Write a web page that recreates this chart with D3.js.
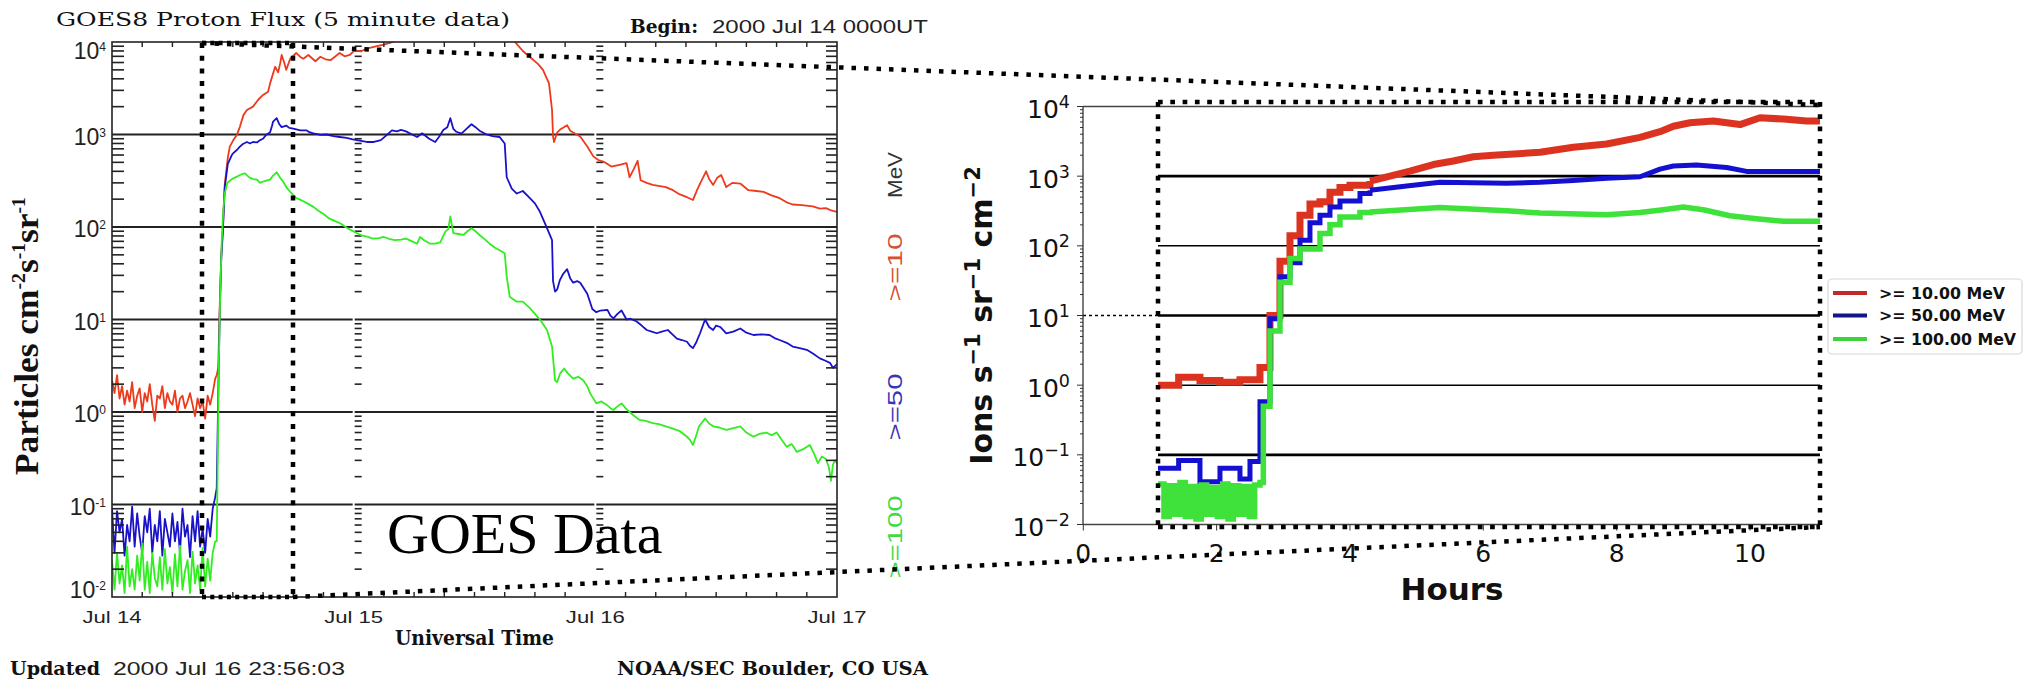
<!DOCTYPE html>
<html>
<head>
<meta charset="utf-8">
<script src="https://cdn.jsdelivr.net/npm/d3@7"></script>
<style>
  body { margin: 0; background: #fff; }
  svg { display: block; }
</style>
</head>
<body>
<svg id="chart" width="2024" height="682"></svg>
<script>
// ── Data ─────────────────────────────────────────────────────────────────────
// Left panel: GOES8 proton flux, hours since 2000 Jul 14 00 UT.
// Quiet period before the event, sampled every 15 min.
const preHours = [0, 0.25, 0.5, 0.75, 1, 1.25, 1.5, 1.75, 2, 2.25, 2.5, 2.75, 3, 3.25,
  3.5, 3.75, 4, 4.25, 4.5, 4.75, 5, 5.25, 5.5, 5.75, 6, 6.25, 6.5, 6.75, 7, 7.25, 7.5,
  7.75, 8, 8.25, 8.5, 8.75, 9, 9.25, 9.5, 9.75, 10, 10.25];
const preRed = [2.2, 1.6, 2.5, 1.4, 1.9, 1.2, 1.7, 1.3, 2.1, 1.1, 1.5, 1.8, 1.0, 1.6, 1.3,
  2.0, 1.2, 0.8, 1.5, 1.4, 1.9, 1.1, 1.6, 1.3, 1.2, 1.7, 1.0, 1.4, 1.5, 1.1, 1.3, 1.6, 1.2,
  0.9, 1.4, 1.1, 1.3, 0.85, 1.5, 1.2, 1.6, 2.3];
const preBlue = [0.09, 0.03, 0.085, 0.05, 0.07, 0.028, 0.06, 0.04, 0.095, 0.035, 0.08,
  0.045, 0.03, 0.075, 0.05, 0.09, 0.03, 0.06, 0.04, 0.085, 0.028, 0.07, 0.05, 0.035, 0.08,
  0.04, 0.065, 0.03, 0.09, 0.045, 0.06, 0.027, 0.075, 0.04, 0.085, 0.035, 0.055, 0.03,
  0.07, 0.045, 0.09, 0.12];
const preGreen = [0.025, 0.012, 0.03, 0.014, 0.022, 0.011, 0.035, 0.013, 0.02, 0.012,
  0.028, 0.015, 0.038, 0.012, 0.024, 0.011, 0.03, 0.016, 0.013, 0.027, 0.012, 0.033,
  0.014, 0.021, 0.011, 0.029, 0.013, 0.036, 0.012, 0.019, 0.025, 0.011, 0.031, 0.014,
  0.022, 0.012, 0.034, 0.013, 0.026, 0.015, 0.03, 0.04];

// Event period, [hour, flux]
const eventRed = [[10.4, 2.5], [10.55, 3], [10.7, 14], [10.85, 50], [11.0, 95], [11.2, 290],
  [11.5, 560], [11.7, 740], [12.05, 870], [12.4, 990], [12.7, 1210], [13.05, 1620],
  [13.4, 1840], [14.0, 2000], [14.5, 2360], [15.0, 2680], [15.5, 2900], [15.7, 3570],
  [16.2, 5400], [16.5, 4700], [16.7, 5870], [16.85, 7240], [17.1, 6000], [17.3, 5000],
  [17.7, 6600], [18.3, 7600], [18.7, 6900], [19.0, 6600], [19.5, 7240], [20.2, 6200],
  [20.7, 6920], [21.2, 6500], [21.7, 6360], [22.6, 7600], [23.1, 7000], [23.6, 7240],
  [24.1, 8130], [24.7, 7900], [25.3, 8500], [26.3, 9000], [26.9, 9300], [27.5, 9700],
  [27.9, 10000], [28.5, 11500], [30, 14000], [32, 17000], [34, 21000], [36, 24000],
  [38, 18000], [39.5, 12000], [40.1, 9800], [40.8, 8000], [41.7, 6600], [42.3, 5800],
  [42.8, 5000], [43.4, 3570], [43.7, 1840], [43.8, 950], [43.9, 830], [44.2, 1050],
  [44.5, 1130], [45.2, 1260], [45.5, 1100], [45.8, 1050], [46.5, 950], [47.2, 740],
  [47.8, 580], [48.3, 530], [48.8, 510], [49.6, 450], [50.4, 470], [51.1, 490],
  [51.4, 345], [51.8, 420], [52.2, 520], [52.5, 320], [53.1, 300], [53.7, 285], [55, 270],
  [55.7, 250], [56.4, 225], [57.1, 210], [57.7, 196], [58.1, 250], [58.4, 295], [59, 400],
  [59.3, 330], [59.7, 285], [60.1, 340], [60.5, 365], [61, 270], [61.6, 300], [62.4, 295],
  [63.2, 250], [64, 245], [64.7, 240], [65.5, 220], [66.3, 205], [67, 185], [67.6, 175],
  [68.5, 172], [69.6, 167], [70.3, 158], [70.9, 160], [71.5, 150], [72, 146]];
const eventBlue = [[10.4, 0.15], [10.55, 1.5], [10.7, 12], [10.85, 45], [11.0, 85],
  [11.2, 270], [11.5, 480], [11.9, 600], [12.05, 630], [12.4, 680], [12.7, 740], [13.0, 790],
  [13.4, 830], [13.7, 800], [14.0, 830], [14.4, 820], [14.7, 870], [15.0, 900], [15.3, 990],
  [15.7, 1060], [15.9, 1250], [16.0, 1380], [16.35, 1500], [16.6, 1300], [16.85, 1200],
  [17.3, 1250], [17.6, 1180], [18.0, 1160], [18.7, 1110], [19.3, 1110], [19.6, 1060],
  [20.0, 1030], [20.7, 990], [21.3, 1000], [22.0, 960], [22.6, 940], [23.3, 920],
  [23.8, 890], [24.3, 870], [25.3, 830], [26.0, 830], [26.7, 870], [27.3, 990], [27.8, 1110],
  [28.3, 1080], [28.7, 1120], [29.2, 1080], [29.8, 1000], [30.3, 940], [30.8, 1030],
  [31.5, 900], [32.1, 830], [32.5, 950], [32.9, 1120], [33.3, 1200], [33.6, 1500],
  [33.9, 1150], [34.2, 1070], [34.7, 1020], [35.2, 1150], [35.7, 1290], [36.1, 1200],
  [36.5, 1100], [37.2, 1000], [37.8, 960], [38.5, 940], [39.0, 800], [39.2, 345],
  [39.7, 260], [40.2, 230], [40.8, 245], [41.5, 205], [42.0, 180], [42.5, 146], [43.2, 97],
  [43.7, 72], [43.8, 26], [44.0, 20], [44.2, 21], [44.5, 27], [44.8, 31], [45.2, 35],
  [45.5, 28], [45.8, 25], [46.2, 26], [46.5, 25], [47.2, 19], [47.7, 13], [48.1, 12],
  [48.5, 12.5], [49.2, 12.7], [49.5, 11], [49.8, 10.3], [50.2, 11.5], [50.6, 12.5],
  [51.1, 10], [51.5, 10.2], [52.1, 9.5], [52.6, 8.6], [53.1, 7.7], [53.6, 7.4], [54.1, 7.1],
  [54.6, 7.4], [55.2, 7.7], [55.6, 7.0], [56.1, 6.2], [56.6, 6.0], [57.1, 5.75], [57.4, 5.2],
  [57.7, 4.9], [58.0, 5.6], [58.4, 7.1], [58.9, 10], [59.3, 8.3], [59.7, 7.7], [60.0, 8.6],
  [60.4, 8.3], [61.0, 7.1], [61.7, 7.4], [62.4, 8.0], [63.0, 7.2], [63.7, 6.8], [64.5, 6.9],
  [65.3, 6.8], [65.8, 6.3], [66.3, 6.0], [67.0, 5.6], [67.6, 5.1], [68.3, 4.9], [69.0, 4.7],
  [69.6, 4.3], [70.3, 3.8], [70.8, 3.6], [71.3, 3.4], [71.6, 3.0], [72.0, 3.3]];
const eventGreen = [[10.4, 0.04], [10.5, 0.3], [10.6, 3], [10.75, 20], [10.9, 70],
  [11.05, 150], [11.2, 230], [11.45, 300], [11.75, 320], [12.05, 336], [12.4, 350],
  [12.7, 365], [13.0, 375], [13.2, 380], [13.5, 355], [13.7, 340], [14.0, 330], [14.4, 325],
  [14.7, 300], [15.0, 310], [15.4, 320], [15.7, 325], [16.0, 360], [16.35, 390], [16.7, 340],
  [17.0, 310], [17.3, 270], [17.7, 240], [18.3, 205], [18.8, 195], [19.4, 180], [20.0, 165],
  [20.5, 150], [21.0, 138], [21.6, 123], [22.2, 115], [22.7, 109], [23.2, 100], [23.7, 93],
  [24.3, 86], [24.8, 81], [25.4, 78], [25.9, 75], [26.5, 76], [27.0, 78], [27.6, 74],
  [28.1, 72], [28.7, 73], [29.2, 75], [29.8, 70], [30.3, 66], [30.6, 78], [31.0, 72],
  [31.6, 66], [32.1, 66], [32.6, 68], [33.1, 89], [33.4, 95], [33.6, 130], [33.9, 86],
  [34.4, 84], [34.9, 82], [35.3, 90], [35.7, 97], [36.1, 90], [36.5, 82], [37.0, 74],
  [37.5, 66], [38.0, 60], [38.5, 56], [39.0, 52], [39.2, 29], [39.5, 17.6], [40.2, 15.6],
  [40.8, 15.6], [41.5, 13.3], [42.0, 11.5], [42.5, 10], [43.2, 7.7], [43.7, 5.1], [44.0, 2.2],
  [44.2, 2.1], [44.5, 2.6], [44.9, 2.95], [45.3, 2.6], [45.8, 2.3], [46.3, 2.4], [46.8, 2.2],
  [47.2, 1.9], [47.5, 1.58], [48.1, 1.24], [48.6, 1.3], [49.1, 1.2], [49.5, 1.1],
  [49.8, 1.05], [50.2, 1.15], [50.6, 1.24], [51.0, 1.1], [51.4, 1.0], [51.9, 0.9],
  [52.4, 0.82], [53.0, 0.8], [53.7, 0.76], [54.3, 0.74], [55.0, 0.7], [55.7, 0.66],
  [56.4, 0.62], [57.1, 0.54], [57.4, 0.5], [57.7, 0.44], [58.0, 0.55], [58.3, 0.7],
  [58.9, 0.85], [59.3, 0.75], [59.7, 0.7], [60.3, 0.68], [61.0, 0.64], [61.7, 0.67],
  [62.4, 0.7], [63.0, 0.6], [63.7, 0.54], [64.3, 0.58], [65.0, 0.6], [65.5, 0.56],
  [66.0, 0.6], [66.5, 0.5], [67.0, 0.42], [67.5, 0.45], [68.0, 0.37], [68.7, 0.4],
  [69.3, 0.44], [69.7, 0.36], [70.1, 0.28], [70.5, 0.33], [70.9, 0.31], [71.2, 0.25],
  [71.4, 0.18], [71.6, 0.27], [71.8, 0.30], [72.0, 0.28]];

const dayLabels = ['Jul 14', 'Jul 15', 'Jul 16', 'Jul 17'];
const leftExps = ['-2', '-1', '0', '1', '2', '3', '4'];
const channelLabels = ['>=10', '>=50', '>=100'];

// Right panel: zoom on the onset, hours
const zoomRed = [[1.12, 1.0], [1.43, 1.3], [1.75, 1.17], [2.05, 1.1], [2.35, 1.2], [2.65, 1.8],
  [2.8, 10], [2.95, 60], [3.1, 140], [3.25, 275], [3.4, 400], [3.55, 430], [3.7, 590],
  [3.85, 690], [4.0, 740], [4.3, 850], [4.6, 1000], [4.9, 1180], [5.25, 1470], [5.55, 1650],
  [5.85, 1900], [6.15, 2000], [6.85, 2200], [7.35, 2600], [7.85, 2900], [8.35, 3600],
  [8.65, 4350], [8.85, 5200], [9.1, 5850], [9.45, 6200], [9.85, 5500], [10.15, 6900],
  [10.5, 6600], [10.85, 6200], [11.1, 6200]];
const zoomBlue = [[1.12, 0.064], [1.43, 0.083], [1.75, 0.041], [2.05, 0.064], [2.35, 0.045],
  [2.5, 0.08], [2.65, 0.58], [2.8, 9], [2.95, 36], [3.1, 57], [3.25, 120], [3.4, 215],
  [3.55, 275], [3.7, 360], [3.85, 440], [4.15, 565], [4.3, 630], [4.85, 720], [5.35, 815],
  [6.35, 790], [6.85, 815], [7.35, 870], [7.85, 930], [8.35, 980], [8.65, 1260], [8.85, 1400],
  [9.2, 1450], [9.65, 1330], [9.95, 1170], [11.1, 1170]];
const zoomGreen = [[1.12, 0.038], [1.21, 0.013], [1.29, 0.036], [1.37, 0.014], [1.45, 0.04],
  [1.53, 0.013], [1.61, 0.035], [1.69, 0.012], [1.77, 0.037], [1.85, 0.014], [1.93, 0.034],
  [2.01, 0.013], [2.09, 0.038], [2.17, 0.012], [2.25, 0.036], [2.33, 0.014], [2.41, 0.035],
  [2.49, 0.013], [2.57, 0.037], [2.65, 0.04], [2.7, 0.5], [2.8, 6], [2.95, 30], [3.1, 66],
  [3.25, 90], [3.55, 150], [3.7, 200], [3.85, 260], [4.15, 300], [4.3, 305], [5.35, 355],
  [6.35, 320], [6.85, 295], [7.85, 280], [8.35, 300], [8.7, 330], [9.0, 360], [9.3, 330],
  [9.7, 270], [10.1, 245], [10.5, 225], [11.1, 225]];
const zoomHourTicks = [0, 2, 4, 6, 8, 10];
const zoomExps = ['−2', '−1', '0', '1', '2', '3', '4'];
const legendLabels = ['>= 10.00 MeV', '>= 50.00 MeV', '>= 100.00 MeV'];

// ── Setup ────────────────────────────────────────────────────────────────────
const svg = d3.select('#chart');
const SERIF = '"DejaVu Serif", serif';
const TIMES = '"Liberation Serif", "Times New Roman", serif';
const THIN = '"Liberation Sans", Arial, sans-serif';
const MPL = '"DejaVu Sans", sans-serif';

const LEFT_COL = { red: '#ee3a1c', blue: '#1a12c8', green: '#30ee20' };
const ZOOM_COL = { red: '#dc3320', blue: '#1410d2', green: '#3ee23a' };
const LEG_COL = ['#c02a2a', '#14148c', '#3ed23e'];

function txt(g, x, y, s, o = {}) {
  const t = g.append('text')
    .attr('x', x).attr('y', y)
    .attr('font-family', o.family || THIN)
    .attr('font-size', o.size || 18)
    .attr('font-weight', o.weight || 'normal')
    .attr('fill', o.fill || '#111')
    .attr('text-anchor', o.anchor || 'start')
    .text(s);
  if (o.len) t.attr('textLength', o.len).attr('lengthAdjust', 'spacingAndGlyphs');
  if (o.rotate) t.attr('transform', `rotate(-90,${x},${y})`);
  return t;
}

function isDecade(v) {
  const l = Math.log10(v);
  return Math.abs(l - Math.round(l)) < 1e-6;
}

// ── Left panel: GOES8 ────────────────────────────────────────────────────────
const L = { x0: 112, x1: 837, y0: 42, y1: 597 };
const xL = d3.scaleLinear().domain([0, 72]).range([L.x0, L.x1]);
const yL = d3.scaleLog().domain([1e-2, 1e4]).range([L.y1, L.y0]);
const gL = svg.append('g');

svg.append('clipPath').attr('id', 'clipL')
  .append('rect').attr('x', L.x0).attr('y', L.y0)
  .attr('width', L.x1 - L.x0).attr('height', L.y1 - L.y0);

// decade grid lines
const decades = yL.ticks().filter(isDecade);
gL.selectAll('line.grid').data(decades.slice(1, -1)).join('line')
  .attr('x1', L.x0).attr('x2', L.x1)
  .attr('y1', d => yL(d)).attr('y2', d => yL(d))
  .attr('stroke', '#222').attr('stroke-width', 2);

// day markers: small gap in the grid + tick dashes
const minorVals = yL.ticks().filter(v => !isDecade(v));
[24, 48].forEach(h => {
  const x = xL(h);
  gL.append('line').attr('x1', x).attr('x2', x).attr('y1', L.y0).attr('y2', L.y1)
    .attr('stroke', '#fff').attr('stroke-width', 2);
  gL.selectAll(null).data(minorVals).join('line')
    .attr('x1', x + 1).attr('x2', x + 8)
    .attr('y1', d => yL(d)).attr('y2', d => yL(d))
    .attr('stroke', '#222').attr('stroke-width', 1.6);
});

// series
const lineL = d3.line().x(d => xL(d[0])).y(d => yL(d[1]));
const seriesL = [
  { key: 'red', pts: preHours.map((h, i) => [h, preRed[i]]).concat(eventRed) },
  { key: 'blue', pts: preHours.map((h, i) => [h, preBlue[i]]).concat(eventBlue) },
  { key: 'green', pts: preHours.map((h, i) => [h, preGreen[i]]).concat(eventGreen) }
];
gL.append('g').attr('clip-path', 'url(#clipL)')
  .selectAll('path').data(seriesL).join('path')
  .attr('d', d => lineL(d.pts))
  .attr('fill', 'none')
  .attr('stroke', d => LEFT_COL[d.key])
  .attr('stroke-width', 1.8)
  .attr('stroke-linejoin', 'round');

// frame
gL.append('rect').attr('x', L.x0).attr('y', L.y0)
  .attr('width', L.x1 - L.x0).attr('height', L.y1 - L.y0)
  .attr('fill', 'none').attr('stroke', '#222').attr('stroke-width', 1.6);

// y ticks (inward on both sides)
gL.selectAll(null).data(minorVals).join('line')
  .attr('x1', L.x0).attr('x2', L.x0 + 12)
  .attr('y1', d => yL(d)).attr('y2', d => yL(d))
  .attr('stroke', '#222').attr('stroke-width', 1.6);
gL.selectAll(null).data(minorVals).join('line')
  .attr('x1', L.x1 - 11).attr('x2', L.x1)
  .attr('y1', d => yL(d)).attr('y2', d => yL(d))
  .attr('stroke', '#222').attr('stroke-width', 1.6);

// x minor ticks every 3 h
const xMinor = d3.range(3, 72, 3).filter(h => h % 24 !== 0);
gL.selectAll(null).data(xMinor).join('line')
  .attr('x1', d => xL(d)).attr('x2', d => xL(d))
  .attr('y1', L.y1).attr('y2', L.y1 - 5)
  .attr('stroke', '#222').attr('stroke-width', 1.4);
gL.selectAll(null).data(xMinor).join('line')
  .attr('x1', d => xL(d)).attr('x2', d => xL(d))
  .attr('y1', L.y0).attr('y2', L.y0 + 5)
  .attr('stroke', '#222').attr('stroke-width', 1.4);

// y labels
decades.forEach((v, i) => {
  const base = Math.min(Math.max(yL(v) + 10, 59), 598);
  const t = gL.append('text').attr('x', 106).attr('y', base)
    .attr('font-family', THIN).attr('font-size', 23).attr('fill', '#222')
    .attr('text-anchor', 'end');
  t.append('tspan').text('10');
  t.append('tspan').attr('dy', -8).attr('font-size', 12).text(leftExps[i]);
});

// x labels
dayLabels.forEach((s, i) => {
  txt(gL, xL(i * 24), 622.5, s, { size: 17, anchor: 'middle', len: 59, fill: '#222' });
});

// titles
txt(gL, 56, 26, 'GOES8 Proton Flux (5 minute data)', { family: SERIF, size: 19, len: 454 });
txt(gL, 630, 33, 'Begin:', { family: SERIF, size: 18, weight: 'bold', len: 68 });
txt(gL, 712, 33, '2000 Jul 14 0000UT', { size: 18, len: 216, fill: '#222' });
txt(gL, 474.5, 645, 'Universal Time', { family: SERIF, size: 20, weight: 'bold', anchor: 'middle', len: 159 });
txt(gL, 10, 675, 'Updated', { family: SERIF, size: 19, weight: 'bold', len: 90 });
txt(gL, 113, 675, '2000 Jul 16 23:56:03', { size: 19, len: 232, fill: '#222' });
txt(gL, 617, 675, 'NOAA/SEC Boulder, CO USA', { family: SERIF, size: 19, weight: 'bold', len: 311 });

// y title
const yTitle = gL.append('text')
  .attr('x', 38).attr('y', 336)
  .attr('transform', 'rotate(-90,38,336)')
  .attr('font-family', TIMES).attr('font-size', 34).attr('font-weight', 'bold')
  .attr('text-anchor', 'middle').attr('fill', '#111')
  .attr('textLength', 278).attr('lengthAdjust', 'spacingAndGlyphs');
yTitle.append('tspan').text('Particles cm');
yTitle.append('tspan').attr('dy', -13).attr('font-size', 19).text('-2');
yTitle.append('tspan').attr('dy', 13).text('s');
yTitle.append('tspan').attr('dy', -13).attr('font-size', 19).text('-1');
yTitle.append('tspan').attr('dy', 13).text('sr');
yTitle.append('tspan').attr('dy', -13).attr('font-size', 19).text('-1');

// channel labels on the right
txt(gL, 902, 175, 'MeV', { size: 21, anchor: 'middle', rotate: true, len: 46, fill: '#333' });
const chanPos = [{ y: 267.5, len: 68 }, { y: 407, len: 67 }, { y: 537, len: 83 }];
channelLabels.forEach((s, i) => {
  txt(gL, 902, chanPos[i].y, s, {
    size: 21, anchor: 'middle', rotate: true, len: chanPos[i].len,
    fill: ['#d8502f', '#3a34b8', '#44d844'][i]
  });
});

// ── Right panel: zoom on onset ───────────────────────────────────────────────
const R = { x0: 1083, x1: 1820, y0: 106.5, y1: 524.5, bx0: 1158, bx1: 1820, by0: 102, by1: 527 };
const xR = d3.scaleLinear().domain([0, 10]).range([1083.3, 1750]);
const yR = d3.scaleLog().domain([1e-2, 1e4]).range([R.y1, R.y0]);
const gR = svg.append('g');

svg.append('clipPath').attr('id', 'clipR')
  .append('rect').attr('x', R.bx0).attr('y', R.y0 - 2)
  .attr('width', R.bx1 - R.bx0).attr('height', R.y1 - R.y0 + 4);

const decR = yR.ticks().filter(isDecade);
// grid lines inside the box
gR.selectAll(null).data(decR.slice(1, -1)).join('line')
  .attr('x1', R.bx0).attr('x2', R.bx1)
  .attr('y1', d => yR(d)).attr('y2', d => yR(d))
  .attr('stroke', '#000')
  .attr('stroke-width', d => Math.round(Math.log10(d)) % 2 !== 0 ? 2.6 : 1.5);
// dashed extension of the 10^1 line
gR.append('line').attr('x1', R.x0).attr('x2', R.bx0)
  .attr('y1', yR(10)).attr('y2', yR(10))
  .attr('stroke', '#000').attr('stroke-width', 1.3).attr('stroke-dasharray', '3 3');

// onset drawn as blocky steps, the plateau as a plain line
const STEP_END = 4.3;
const stepR = d3.line().x(d => xR(d[0])).y(d => yR(d[1])).curve(d3.curveStepAfter);
const linR = d3.line().x(d => xR(d[0])).y(d => yR(d[1]));
const seriesR = [
  { key: 'red', pts: zoomRed, w: 7 },
  { key: 'blue', pts: zoomBlue, w: 5 },
  { key: 'green', pts: zoomGreen, w: 5.5 }
];
const gLines = gR.append('g').attr('clip-path', 'url(#clipR)');
seriesR.forEach(s => {
  const head = s.pts.filter(d => d[0] <= STEP_END);
  const tail = s.pts.filter(d => d[0] >= STEP_END);
  gLines.append('path').attr('d', stepR(head))
    .attr('fill', 'none').attr('stroke', ZOOM_COL[s.key]).attr('stroke-width', s.w);
  gLines.append('path').attr('d', linR(tail))
    .attr('fill', 'none').attr('stroke', ZOOM_COL[s.key]).attr('stroke-width', s.w)
    .attr('stroke-linejoin', 'round');
});

// spines
gR.append('line').attr('x1', R.x0).attr('x2', R.x0).attr('y1', R.y0).attr('y2', R.y1)
  .attr('stroke', '#333').attr('stroke-width', 1.3);
[R.y0, R.y1].forEach(y => gR.append('line').attr('x1', R.x0).attr('x2', R.x1)
  .attr('y1', y).attr('y2', y).attr('stroke', '#444').attr('stroke-width', 1.3));

// y ticks (outward)
gR.selectAll(null).data(yR.ticks()).join('line')
  .attr('x1', R.x0).attr('x2', d => R.x0 - (isDecade(d) ? 6 : 3))
  .attr('y1', d => yR(d)).attr('y2', d => yR(d))
  .attr('stroke', '#333').attr('stroke-width', 1);
// x ticks
gR.selectAll(null).data(zoomHourTicks).join('line')
  .attr('x1', d => xR(d)).attr('x2', d => xR(d))
  .attr('y1', R.y1).attr('y2', R.y1 + 6)
  .attr('stroke', '#333').attr('stroke-width', 1);

// y labels
decR.forEach((v, i) => {
  const t = gR.append('text').attr('x', 1070).attr('y', yR(v) + 11.5)
    .attr('font-family', MPL).attr('font-size', 25).attr('fill', '#111')
    .attr('text-anchor', 'end');
  t.append('tspan').text('10');
  t.append('tspan').attr('dy', -10).attr('font-size', 17.5).text(zoomExps[i]);
});
// x labels
zoomHourTicks.forEach(h => {
  txt(gR, xR(h), 562, String(h), { family: MPL, size: 25, anchor: 'middle' });
});
txt(gR, 1452, 600, 'Hours', { family: MPL, size: 31, weight: 'bold', anchor: 'middle' });

// y title
const yTitleR = gR.append('text')
  .attr('x', 991.5).attr('y', 315.5)
  .attr('transform', 'rotate(-90,991.5,315.5)')
  .attr('font-family', MPL).attr('font-size', 30).attr('font-weight', 'bold')
  .attr('text-anchor', 'middle').attr('fill', '#111');
yTitleR.append('tspan').text('Ions s');
yTitleR.append('tspan').attr('dy', -12).attr('font-size', 21).text('−1');
yTitleR.append('tspan').attr('dy', 12).text(' sr');
yTitleR.append('tspan').attr('dy', -12).attr('font-size', 21).text('−1');
yTitleR.append('tspan').attr('dy', 12).text(' cm');
yTitleR.append('tspan').attr('dy', -12).attr('font-size', 21).text('−2');

// legend
const gLeg = gR.append('g');
gLeg.append('rect').attr('x', 1828).attr('y', 279).attr('width', 194).attr('height', 75)
  .attr('rx', 4).attr('fill', '#fff').attr('stroke', '#d8d8d8').attr('stroke-width', 1.2);
legendLabels.forEach((s, i) => {
  const y = [293, 315.5, 339][i];
  gLeg.append('line').attr('x1', 1833).attr('x2', 1867).attr('y1', y).attr('y2', y)
    .attr('stroke', LEG_COL[i]).attr('stroke-width', 4);
  txt(gLeg, 1879, y + 5.5, s, { family: MPL, size: 15.8, weight: 'bold' });
});

// ── Zoom box and connectors (dotted) ─────────────────────────────────────────
const gZ = svg.append('g').attr('stroke', '#000').attr('fill', 'none');
function dotted(x1, y1, x2, y2, w, dash) {
  gZ.append('line').attr('x1', x1).attr('y1', y1).attr('x2', x2).attr('y2', y2)
    .attr('stroke-width', w).attr('stroke-dasharray', dash);
}
// box on the left panel
dotted(202, 43, 293, 43, 4.5, '4 4.3');
dotted(202, 597, 293, 597, 4.5, '4 4.3');
dotted(202, 43, 202, 597, 4.5, '5 7.7');
dotted(293, 43, 293, 597, 4.5, '5 7.7');
// connectors
dotted(202, 43, 1820, 105, 4.5, '4.5 8');
dotted(293, 597, 1820, 527, 4.5, '4.5 8');
// box on the right panel
dotted(R.bx0, R.by0, R.bx1, R.by0, 4.5, '4.7 7.6');
dotted(R.bx0, R.by1, R.bx1, R.by1, 4.5, '4.7 7.6');
dotted(R.bx0, R.by0, R.bx0, R.by1, 4.5, '4.7 7.6');
dotted(R.bx1, R.by0, R.bx1, R.by1, 4.5, '4.7 7.6');

// caption over the left panel
txt(svg, 387, 553, 'GOES Data', { family: TIMES, size: 58, fill: '#000' });
</script>
</body>
</html>
